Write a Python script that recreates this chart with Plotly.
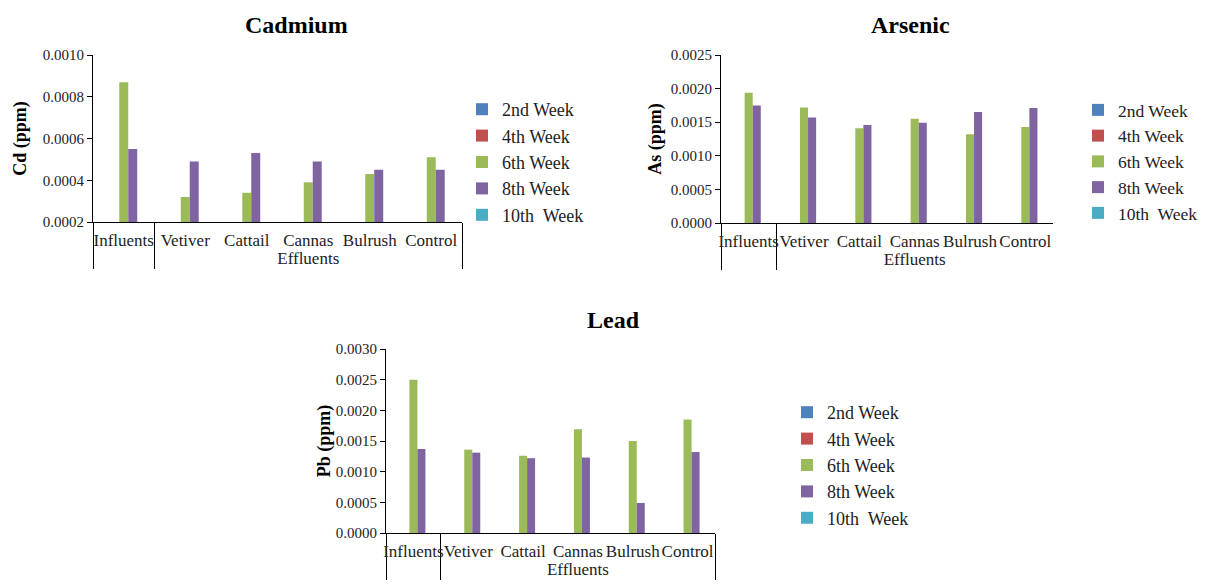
import plotly.graph_objects as go

groups = [" ", "Effluents", "Effluents", "Effluents", "Effluents", "Effluents"]
categories = ["Influents", "Vetiver", "Cattail", "Cannas", "Bulrush", "Control"]
weeks = ["2nd Week", "4th Week", "6th Week", "8th Week", "10th  Week"]
colors = ["#4F81BD", "#C0504D", "#9BBB59", "#8064A2", "#4BACC6"]

cd_2nd = [0, 0, 0, 0, 0, 0]
cd_4th = [0, 0, 0, 0, 0, 0]
cd_6th = [0.00087, 0.00032, 0.00034, 0.00039, 0.00043, 0.00051]
cd_8th = [0.00055, 0.00049, 0.00053, 0.00049, 0.00045, 0.00045]
cd_10th = [0, 0, 0, 0, 0, 0]

as_2nd = [0, 0, 0, 0, 0, 0]
as_4th = [0, 0, 0, 0, 0, 0]
as_6th = [0.00194, 0.00172, 0.00141, 0.00155, 0.00132, 0.00143]
as_8th = [0.00175, 0.00157, 0.00146, 0.00149, 0.00165, 0.00171]
as_10th = [0, 0, 0, 0, 0, 0]

pb_2nd = [0, 0, 0, 0, 0, 0]
pb_4th = [0, 0, 0, 0, 0, 0]
pb_6th = [0.00250, 0.00136, 0.00126, 0.00169, 0.00150, 0.00185]
pb_8th = [0.00137, 0.00131, 0.00122, 0.00123, 0.00049, 0.00132]
pb_10th = [0, 0, 0, 0, 0, 0]

W, H = 1206, 586
OFF = 8  # page body margin: figure is drawn 8px in from the window corner
FONT = "Liberation Serif"

def fx(px):
    return (px - OFF) / W

def fy(py):
    return (H - (py - OFF)) / H

panels = [
    dict(name="Cadmium", ytitle="Cd (ppm)", series=[cd_2nd, cd_4th, cd_6th, cd_8th, cd_10th],
         x0=93, x1=462, yb=222, yt=55, yrange=[0.0002, 0.0010], dtick=0.0002,
         tx=296, ty=25, lx=462, ly=91, standoff=11, lfs=18),
    dict(name="Arsenic", ytitle="As (ppm)", series=[as_2nd, as_4th, as_6th, as_8th, as_10th],
         x0=721, x1=1053, yb=223, yt=55, yrange=[0, 0.0025], dtick=0.0005,
         tx=910, ty=25, lx=1078, ly=92, standoff=4, lfs=17.5),
    dict(name="Lead", ytitle="Pb (ppm)", series=[pb_2nd, pb_4th, pb_6th, pb_8th, pb_10th],
         x0=386, x1=715, yb=533, yt=349, yrange=[0, 0.0030], dtick=0.0005,
         tx=613, ty=320, lx=787, ly=394, standoff=0, lfs=18),
]

fig = go.Figure()
layout = dict(
    width=W, height=H, margin=dict(l=0, r=0, t=0, b=0, autoexpand=False),
    paper_bgcolor="white", plot_bgcolor="white",
    barmode="group", bargap=0.27, bargroupgap=0,
    font=dict(family=FONT, color="black", size=15),
    annotations=[],
)

for i, p in enumerate(panels):
    sfx = "" if i == 0 else str(i + 1)
    leg = "legend" if i == 0 else f"legend{i + 1}"
    for w, c, vals in zip(weeks, colors, p["series"]):
        fig.add_trace(go.Bar(
            x=[groups, categories], y=vals, name=w,
            marker=dict(color=c, line=dict(width=0)),
            xaxis="x" + sfx, yaxis="y" + sfx, legend=leg,
            showlegend=True,
        ))
    layout["xaxis" + sfx] = dict(
        domain=[fx(p["x0"]), fx(p["x1"])], anchor="y" + sfx, type="multicategory", automargin=False,
        showline=True, linecolor="black", linewidth=1, tickangle=0,
        ticks="", showgrid=False, showdividers=True, dividercolor="black", dividerwidth=1,
        ticklabelstandoff=3,
        tickfont=dict(family=FONT, size=17, color="#222"),
    )
    layout["yaxis" + sfx] = dict(
        domain=[fy(p["yb"]), fy(p["yt"])], anchor="x" + sfx, range=p["yrange"], dtick=p["dtick"],
        automargin=False, tick0=0, tickformat=".4f", showline=True, linecolor="black", linewidth=1,
        ticks="outside", ticklen=5, tickcolor="black", showgrid=False, zeroline=False,
        tickfont=dict(family=FONT, size=15, color="#222"),
        title=dict(text=p["ytitle"], font=dict(family=FONT, size=18, color="black", weight="bold"),
                   standoff=p["standoff"]),
    )
    layout[leg] = dict(
        x=fx(p["lx"]), y=fy(p["ly"]), xanchor="left", yanchor="top",
        font=dict(family=FONT, size=p["lfs"], color="#222"), bgcolor="rgba(0,0,0,0)",
        itemwidth=30, tracegroupgap=0,
    )
    layout["annotations"].append(dict(
        text="<b>" + p["name"] + "</b>", x=fx(p["tx"]), y=fy(p["ty"]),
        xref="paper", yref="paper", xanchor="center", yanchor="middle", showarrow=False,
        font=dict(family=FONT, size=24, color="black"),
    ))

fig.update_layout(**layout)
fig.write_html("out.html")
